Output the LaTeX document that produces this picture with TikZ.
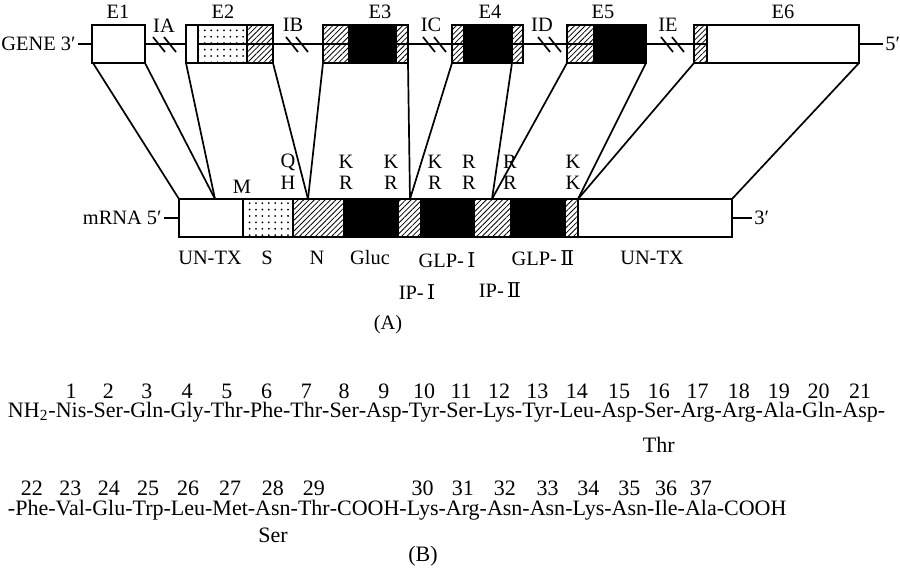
\documentclass[tikz,border=0pt]{standalone}
\usepackage{fontspec}
\setmainfont{Liberation Serif}
\newfontfamily\romfont{DejaVu Serif}
\usetikzlibrary{patterns.meta}
\tikzset{
  ol/.style={line width=0.85pt},
  hatch/.style={pattern={Lines[angle=45,distance=1.9pt,line width=0.4pt]}},
  dotfill/.style={pattern={Dots[distance=3.2pt,radius=0.5pt]}},
  blk/.style={fill=black},
  lbl/.style={font=\fontsize{10.2}{12}\selectfont, inner sep=1pt},
  seq/.style={font=\fontsize{11}{13}\selectfont, inner sep=0pt, outer sep=0pt, anchor=base west},
  num/.style={font=\fontsize{11}{13}\selectfont, inner sep=0pt, anchor=base},
}
\newcommand{\RomI}{{\romfont Ⅰ}}
\newcommand{\RomII}{{\romfont Ⅱ}}
\begin{document}
\begin{tikzpicture}[x=0.5pt,y=-0.5pt]
\useasboundingbox (0,0) rectangle (900,568);
% ---------- GENE ----------
\node[lbl, anchor=west, inner sep=0pt] (gene) at (1,44) {GENE 3′};
\node[lbl, anchor=west] (g5) at (883,44) {5′};
\draw[ol] ([xshift=1pt]gene.east) -- (g5.west);
\foreach \c in {159,170,292,302,429,440,544,555,667,678}
  \draw[ol] (\c-6,37) -- (\c+6,52);
% exons
\draw[ol,fill=white] (92,25) rectangle (145,63);
\draw[ol,fill=white] (186,25) rectangle (198,63);
\draw[ol,dotfill] (198,25) rectangle (247,63);
\draw[ol,hatch] (247,25) rectangle (273,63);
\draw[ol,hatch] (323,25) rectangle (349,63);
\draw[ol,blk] (349,25) rectangle (396,63);
\draw[ol,hatch] (396,25) rectangle (408,63);
\draw[ol,hatch] (452,25) rectangle (464,63);
\draw[ol,blk] (464,25) rectangle (512,63);
\draw[ol,hatch] (512,25) rectangle (523,63);
\draw[ol,hatch] (567,25) rectangle (594,63);
\draw[ol,blk] (594,25) rectangle (646,63);
\draw[ol,hatch] (694,25) rectangle (707,63);
\draw[ol,fill=white] (707,25) rectangle (859,63);
% exon / intron labels
\node[lbl] (lE1) at (118,12) {E1};
\node[lbl] (lE2) at (223,12) {E2};
\node[lbl] (lE3) at (380,12) {E3};
\node[lbl] (lE4) at (490,12) {E4};
\node[lbl] (lE5) at (603,12) {E5};
\node[lbl] (lE6) at (783,12) {E6};
\node[lbl] (lIA) at (164,26) {IA};
\node[lbl] (lIB) at (293,25) {IB};
\node[lbl] (lIC) at (431,25) {IC};
\node[lbl] (lID) at (542,25) {ID};
\node[lbl] (lIE) at (668,25) {IE};
% gene corner coordinates
\coordinate (a1) at (93,63);  \coordinate (a2) at (145,63);
\coordinate (a3) at (186,63); \coordinate (a4) at (273,63);
\coordinate (a5) at (323,63); \coordinate (a6) at (408,63);
\coordinate (a7) at (452,63); \coordinate (a8) at (512,63);
\coordinate (a9) at (567,63); \coordinate (a10) at (646,63);
\coordinate (a11) at (694,63); \coordinate (a12) at (859,63);
% ---------- mRNA ----------
\node[lbl, anchor=east] (mrna) at (164,218) {mRNA 5′};
\node[lbl, anchor=west] (m3) at (752,218) {3′};
\draw[ol] (mrna.east) -- (179,218);
\draw[ol] (732,218) -- (m3.west);
\draw[ol,fill=white] (179,199) rectangle (243,237);
\draw[ol,dotfill] (243,199) rectangle (293,237);
\draw[ol,hatch] (293,199) rectangle (344,237);
\draw[ol,blk] (344,199) rectangle (398,237);
\draw[ol,hatch] (398,199) rectangle (421,237);
\draw[ol,blk] (421,199) rectangle (474,237);
\draw[ol,hatch] (474,199) rectangle (511,237);
\draw[ol,blk] (511,199) rectangle (565,237);
\draw[ol,hatch] (565,199) rectangle (578,237);
\draw[ol,fill=white] (578,199) rectangle (732,237);
\coordinate (b1) at (179,199); \coordinate (b2) at (215,199);
\coordinate (b3) at (308,199); \coordinate (b4) at (410,199);
\coordinate (b5) at (492,199); \coordinate (b6) at (578,199);
\coordinate (b7) at (732,199);
% connectors
\draw[ol] (a1) -- (b1);
\draw[ol] (a2) -- (b2);
\draw[ol] (a3) -- (b2);
\draw[ol] (a4) -- (b3);
\draw[ol] (a5) -- (b3);
\draw[ol] (a6) -- (b4);
\draw[ol] (a7) -- (b4);
\draw[ol] (a8) -- (b5);
\draw[ol] (a9) -- (b5);
\draw[ol] (a10) -- (b6);
\draw[ol] (a11) -- (b6);
\draw[ol] (a12) -- (b7);
% residue labels above
\node[lbl] (M) at (242,187) {M};
\foreach \x/\t/\b [count=\i] in {288/Q/H,346/K/R,391/K/R,435/K/R,469/R/R,510/R/R,573/K/K}{
  \node[lbl] (t\i) at (\x,162) {\t};
  \node[lbl] (u\i) at (\x,183) {\b};
}
% region labels below
\node[lbl] (un1) at (210,258) {UN-TX};
\node[lbl] (S) at (267,258) {S};
\node[lbl] (N) at (317,258) {N};
\node[lbl] (gluc) at (370,258) {Gluc};
\node[lbl] (glp1) at (447,260) {GLP-\,\RomI};
\node[lbl] (glp2) at (543,258) {GLP-\,\RomII};
\node[lbl] (un2) at (652,258) {UN-TX};
\node[lbl] (ip1) at (417,292) {IP-\,\RomI};
\node[lbl] (ip2) at (500,290) {IP-\,\RomII};
\node[lbl] (A) at (388,325) {(A)};
% ---------- (B) sequence ----------
\coordinate (row1n) at (0,398);
\coordinate (row1t) at (0,452);
\node[seq] (r0) at (8,417) {NH\textsubscript{2}};
\foreach \nm [count=\i, remember=\i as \j (initially 0)] in {Nis,Ser,Gln,Gly,Thr,Phe,Thr,Ser,Asp,Tyr,Ser,Lys,Tyr,Leu,Asp,Ser,Arg,Arg,Ala,Gln,Asp}{
  \node[seq] (h\i) at (r\j.base east) {-};
  \node[seq] (r\i) at (h\i.base east) {\nm};
  \node[num] (n\i) at (r\i.base |- row1n) {\i};
}
\node[seq] (h22) at (r21.base east) {-};
\node[num] (alt16) at (r16.base |- row1t) {Thr};
\coordinate (row2n) at (0,495);
\coordinate (row2t) at (0,542);
\node[seq] (s0) at (6,515) {};
\foreach \nb/\nm [count=\k, remember=\k as \l (initially 0)] in {22/Phe,23/Val,24/Glu,25/Trp,26/Leu,27/Met,28/Asn,29/Thr,/COOH,30/Lys,31/Arg,32/Asn,33/Asn,34/Lys,35/Asn,36/Ile,37/Ala,/COOH}{
  \node[seq] (p\k) at (s\l.base east) {-};
  \node[seq] (s\k) at (p\k.base east) {\nm};
  \node[num] (m\k) at (s\k.base |- row2n) {\nb};
}
\node[num] (alt28) at (s7.base |- row2t) {Ser};
\node[lbl, font=\fontsize{11}{13}\selectfont] (B) at (423,556) {(B)};
\end{tikzpicture}
\end{document}
